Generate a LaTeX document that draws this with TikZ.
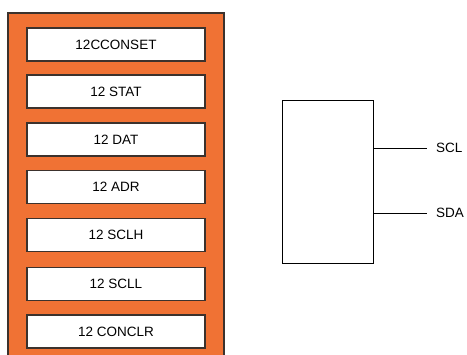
\documentclass[tikz,border=0pt]{standalone}
\usepackage{fontspec}
\setmainfont{Liberation Sans}
\definecolor{regorange}{RGB}{240,114,52}
\definecolor{edgegray}{RGB}{60,50,45}
\begin{document}
\begin{tikzpicture}[x=1pt,y=-1pt,
  regbox/.style={draw=edgegray,line width=1.2pt,fill=white,minimum width=178pt,minimum height=33pt,inner sep=0pt,font=\fontsize{13.5}{15}\selectfont},
  lbl/.style={font=\fontsize{13.5}{15}\selectfont,anchor=west,inner sep=0pt},
  wire/.style={draw=black,line width=0.9pt}]
\useasboundingbox (0,0) rectangle (467,355);
\clip (0,0) rectangle (467,355);
\fill[regorange,draw=edgegray,line width=1.2pt] (8,13) rectangle (224,370);
\node[regbox] (r1) at (116,44.5) {12CCONSET};
\node[regbox] (r2) at (116,91.5) {12 STAT};
\node[regbox] (r3) at (116,139.5) {12 DAT};
\node[regbox] (r4) at (116,187) {12 ADR};
\node[regbox] (r5) at (116,235) {12 SCLH};
\node[regbox] (r6) at (116,284) {12 SCLL};
\node[regbox] (r7) at (116,331.5) {12 CONCLR};
\node[draw=black,line width=1pt,minimum width=91pt,minimum height=163pt,inner sep=0pt] (blk) at (327.5,182.5) {};
\coordinate (sclend) at (427,148);
\coordinate (sdaend) at (427,213);
\node[lbl] (scl) at (436,148) {SCL};
\node[lbl] (sda) at (436,213) {SDA};
\draw[wire] (blk.east |- sclend) -- (sclend);
\draw[wire] (blk.east |- sdaend) -- (sdaend);
\end{tikzpicture}
\end{document}
